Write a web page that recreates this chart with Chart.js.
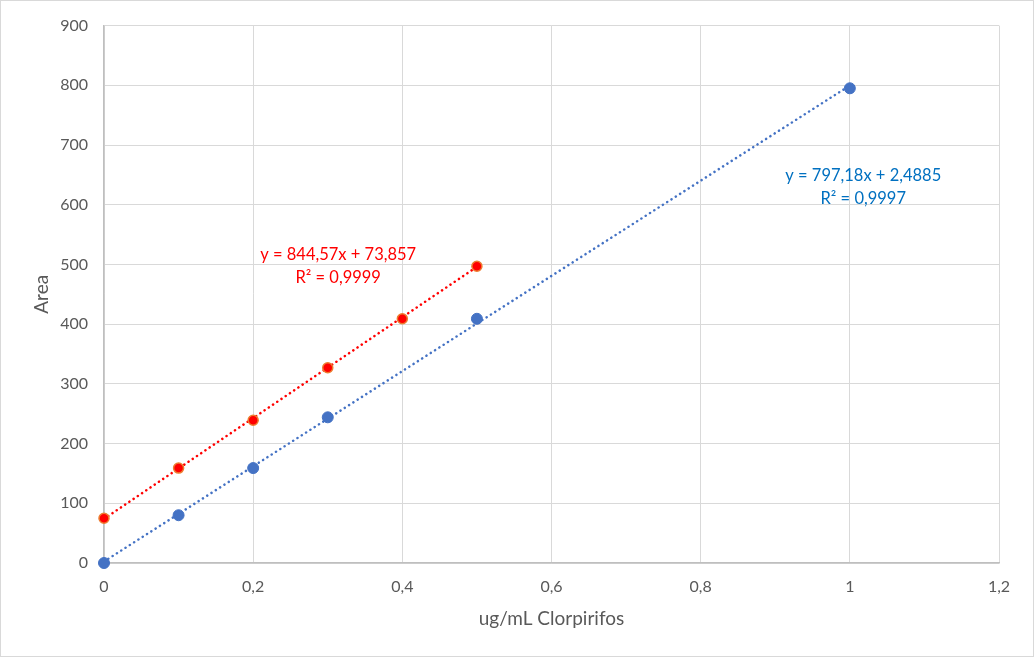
<!DOCTYPE html>
<html>
<head>
<meta charset="utf-8">
<script src="https://cdn.jsdelivr.net/npm/chart.js@4/dist/chart.umd.min.js"></script>
<style>
    html, body { margin: 0; padding: 0; background: #fff; }
    #wrap { width: 1034px; height: 657px; position: relative; }
</style>
</head>
<body>
<div id="wrap"><canvas id="calChart"></canvas></div>
<script>
// Standard series (blue) and matrix series (red)
const blueX = [0, 0.1, 0.2, 0.3, 0.5, 1];
const blueY = [0, 80, 159, 244, 409, 795];
const redX = [0, 0.1, 0.2, 0.3, 0.4, 0.5];
const redY = [75, 159, 239, 327, 409, 497];

// Trendline end points (from the equations shown)
const blueFitX = [0, 1];
const blueFitY = [2.5, 799.7];
const redFitX = [0, 0.5];
const redFitY = [73.9, 496.1];

const blueLabel = ['y = 797,18x + 2,4885', 'R² = 0,9997'];
const redLabel = ['y = 844,57x + 73,857', 'R² = 0,9999'];
const blueLabelAt = [1.018, 649];
const redLabelAt = [0.314, 517];

const xTicks = [0, 0.2, 0.4, 0.6, 0.8, 1, 1.2];

const pts = (xs, ys) => xs.map((x, i) => ({x: x, y: ys[i]}));
const fmt = v => String(Math.round(v * 10) / 10).replace('.', ',');

const FONT = 'Lato, Calibri, "Noto Sans", sans-serif';
const GREY = '#595959';

const labelsPlugin = {
    id: 'fitLabels',
    afterDatasetsDraw(chart) {
        const {ctx, scales: {x, y}} = chart;
        const draw = (lines, at, color) => {
            const px = x.getPixelForValue(at[0]);
            const py = y.getPixelForValue(at[1]);
            ctx.save();
            ctx.font = '16.5px ' + FONT;
            ctx.fillStyle = color;
            ctx.textAlign = 'center';
            ctx.textBaseline = 'middle';
            lines.forEach((t, i) => ctx.fillText(t, px, py + i * 23));
            ctx.restore();
        };
        draw(redLabel, redLabelAt, '#ff0000');
        draw(blueLabel, blueLabelAt, '#0070c0');
    },
    afterDraw(chart) {
        const ctx = chart.ctx;
        ctx.save();
        ctx.strokeStyle = '#d9d9d9';
        ctx.lineWidth = 1;
        ctx.strokeRect(0.5, 0.5, chart.width - 1, chart.height - 1);
        ctx.restore();
    }
};

new Chart(document.getElementById('calChart').getContext('2d'), {
    type: 'scatter',
    data: {
        datasets: [
            {
                label: 'Red',
                data: pts(redX, redY),
                backgroundColor: '#ff0000',
                borderColor: '#ed7d31',
                borderWidth: 1.5,
                pointRadius: 5,
                pointHoverRadius: 5,
                clip: false
            },
            {
                label: 'Blue',
                data: pts(blueX, blueY),
                backgroundColor: '#4472c4',
                borderColor: '#4472c4',
                borderWidth: 1,
                pointRadius: 5.5,
                pointHoverRadius: 5.5,
                clip: false
            },
            {
                label: 'Red fit',
                data: pts(redFitX, redFitY),
                showLine: true,
                borderColor: '#ff0000',
                borderWidth: 2.5,
                borderDash: [0.1, 5],
                borderCapStyle: 'round',
                pointRadius: 0
            },
            {
                label: 'Blue fit',
                data: pts(blueFitX, blueFitY),
                showLine: true,
                borderColor: '#4472c4',
                borderWidth: 2.5,
                borderDash: [0.1, 5],
                borderCapStyle: 'round',
                pointRadius: 0
            }
        ]
    },
    options: {
        responsive: true,
        maintainAspectRatio: false,
        animation: false,
        layout: { padding: { left: 0, right: 35, top: 24, bottom: 0 } },
        plugins: {
            legend: { display: false },
            tooltip: { enabled: false }
        },
        scales: {
            x: {
                type: 'linear',
                min: 0,
                max: 1.2,
                afterBuildTicks: s => { s.ticks = xTicks.map(v => ({value: v})); },
                afterFit: s => { s.height = 94; },
                grid: { color: '#d9d9d9', lineWidth: 1, drawTicks: false },
                border: { color: '#bfbfbf', width: 1.5 },
                ticks: {
                    padding: 14,
                    color: GREY,
                    font: { family: FONT, size: 16 },
                    callback: v => fmt(v)
                },
                title: {
                    display: true,
                    text: 'ug/mL Clorpirifos',
                    color: GREY,
                    font: { family: FONT, size: 19 },
                    padding: { top: 0, bottom: 27 }
                }
            },
            y: {
                min: 0,
                max: 900,
                afterFit: s => { s.width = 104; },
                grid: { color: '#d9d9d9', lineWidth: 1, drawTicks: false },
                border: { color: '#bfbfbf', width: 1.5 },
                ticks: {
                    stepSize: 100,
                    padding: 16,
                    color: GREY,
                    font: { family: FONT, size: 16 }
                },
                title: {
                    display: true,
                    text: 'Area',
                    color: GREY,
                    font: { family: FONT, size: 19 },
                    padding: { top: 30, bottom: 0 }
                }
            }
        }
    },
    plugins: [labelsPlugin]
});
</script>
</body>
</html>
